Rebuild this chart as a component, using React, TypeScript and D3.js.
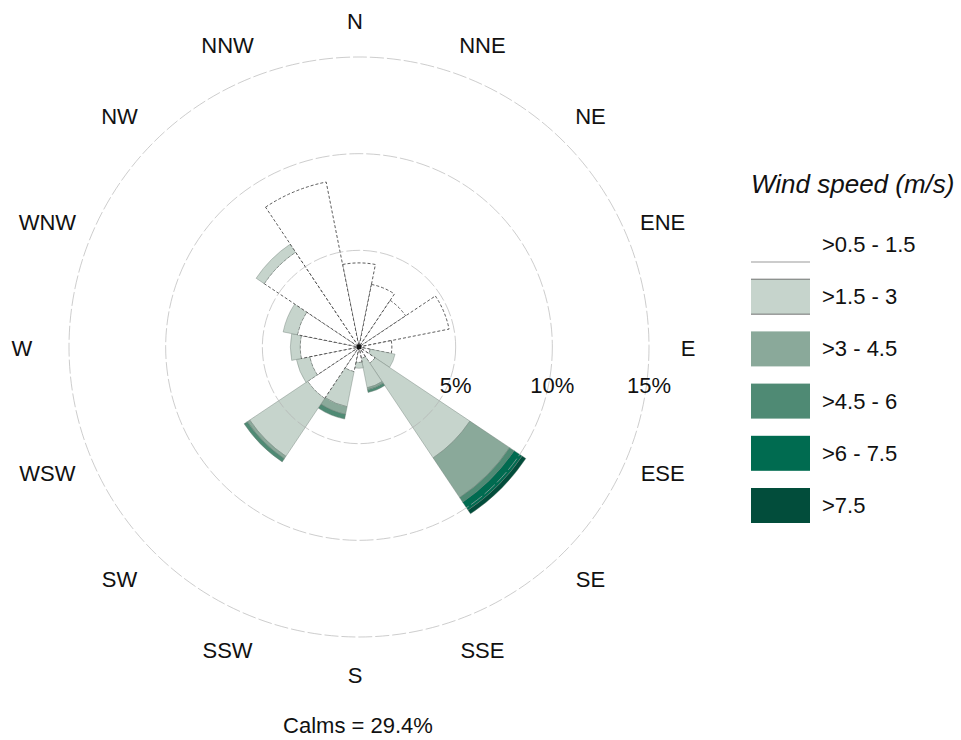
import React from "react";
import * as d3 from "d3";

// Sixteen compass sectors, clockwise from north
const directions = ["N", "NNE", "NE", "ENE", "E", "ESE", "SE", "SSE", "S", "SSW", "SW", "WSW", "W", "WNW", "NW", "NNW"];

// Frequency (%) of each wind-speed class per direction
const speed05to15 = [4.35, 3.3, 2.9, 4.75, 1.7, 0.6, 1.0, 0.6, 0.8, 1.3, 3.2, 2.6, 3.05, 3.25, 5.9, 8.7];
const speed15to3 = [0, 0, 0, 0, 0, 1.3, 5.9, 1.55, 0.3, 1.85, 3.6, 0.7, 0.5, 0.75, 0.5, 0];
const speed3to45 = [0, 0, 0, 0, 0, 0, 2.47, 0.1, 0, 0.4, 0.15, 0, 0, 0, 0, 0];
const speed45to6 = [0, 0, 0, 0, 0, 0, 0.28, 0.15, 0, 0.25, 0.2, 0, 0, 0, 0, 0];
const speed6to75 = [0, 0, 0, 0, 0, 0, 0.5, 0, 0, 0, 0, 0, 0, 0, 0, 0];
const speedAbove75 = [0, 0, 0, 0, 0, 0, 0.23, 0, 0, 0, 0, 0, 0, 0, 0, 0];

const speedClasses = [">0.5 - 1.5", ">1.5 - 3", ">3 - 4.5", ">4.5 - 6", ">6 - 7.5", ">7.5"];
const classColors = ["#ffffff", "#c6d4cc", "#8aa99a", "#4f8a74", "#006b50", "#024d3b"];

const gridTicks = [5, 10, 15];
const calms = 29.4;

const FONT = "'Liberation Sans', Arial, Helvetica, sans-serif";

export default function App() {
  const width = 961;
  const height = 740;
  const cx = 359;
  const cy = 347;

  const r = d3.scaleLinear().domain([0, 15]).range([0, 290]);
  const series = [speed05to15, speed15to3, speed3to45, speed45to6, speed6to75, speedAbove75];
  const step = (2 * Math.PI) / directions.length;

  const arc = d3.arc<any>();

  const segments: { d: string; cls: number; key: string }[] = [];
  directions.forEach((dir, i) => {
    let acc = 0;
    series.forEach((s, k) => {
      const v = s[i];
      if (v <= 0) return;
      const d = arc({
        innerRadius: r(acc),
        outerRadius: r(acc + v),
        startAngle: i * step - step / 2,
        endAngle: i * step + step / 2,
      }) as string;
      segments.push({ d, cls: k, key: `${dir}-${k}` });
      acc += v;
    });
  });

  // Compass labels sit on a slightly wide ellipse around the rose
  const labelCx = 355;
  const labelCy = 348;
  const labelRx = 333;
  const labelRy = 327;

  const legendX = 751;
  const legendY = 227;
  const legendGap = 52.2;
  const boxW = 59;
  const boxH = 35;

  return (
    <svg
      width={width}
      height={height}
      style={{ position: "absolute", left: 0, top: 0, background: "#fff" }}
      fontFamily={FONT}
    >
      <rect width={width} height={height} fill="#fff" />
      <g transform={`translate(${cx},${cy})`}>
        {segments.map((s) => (
          <path
            key={s.key}
            d={s.d}
            fill={classColors[s.cls]}
            stroke={s.cls === 0 ? "#333" : "#6a7a72"}
            strokeWidth={s.cls === 0 ? 0.8 : 0.4}
            strokeDasharray={s.cls === 0 ? "3,2" : undefined}
          />
        ))}
        {gridTicks.map((t) => (
          <circle
            key={t}
            r={r(t)}
            fill="none"
            stroke="#b0b0b0"
            strokeWidth={0.8}
            strokeDasharray="14,3"
            opacity={0.8}
          />
        ))}
        <circle r={2.5} fill="#111" />
        {gridTicks.map((t) => (
          <text
            key={`l${t}`}
            x={r(t)}
            y={46}
            textAnchor="middle"
            fontSize={22}
            fill="#111"
          >
            {`${t}%`}
          </text>
        ))}
      </g>

      {directions.map((dir, i) => {
        const a = i * step;
        return (
          <text
            key={dir}
            x={labelCx + labelRx * Math.sin(a)}
            y={labelCy - labelRy * Math.cos(a)}
            textAnchor="middle"
            dominantBaseline="central"
            fontSize={22}
            fill="#111"
          >
            {dir}
          </text>
        );
      })}

      <text x={cx - 1} y={733} textAnchor="middle" fontSize={22} fill="#111">
        {`Calms = ${calms}%`}
      </text>

      <text x={legendX} y={193} fontSize={26} fontStyle="italic" fill="#111">
        Wind speed (m/s)
      </text>
      {speedClasses.map((c, k) => {
        const y = legendY + k * legendGap;
        return (
          <g key={c}>
            <rect x={legendX} y={y} width={boxW} height={boxH} fill={classColors[k]} />
            {k === 0 && (
              <line x1={legendX} x2={legendX + boxW} y1={y + boxH} y2={y + boxH} stroke="#999" strokeWidth={1} />
            )}
            {k === 1 && (
              <>
                <line x1={legendX} x2={legendX + boxW} y1={y} y2={y} stroke="#555" strokeWidth={0.8} />
                <line x1={legendX} x2={legendX + boxW} y1={y + boxH} y2={y + boxH} stroke="#555" strokeWidth={0.8} />
              </>
            )}
            <text x={legendX + 71} y={y + boxH / 2} dominantBaseline="central" fontSize={22} fill="#111">
              {c}
            </text>
          </g>
        );
      })}
    </svg>
  );
}
